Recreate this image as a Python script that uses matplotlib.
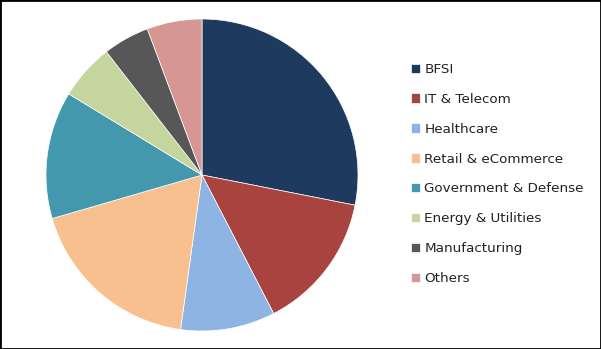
import matplotlib.pyplot as plt
from matplotlib.patches import Rectangle

# Market share by end use
labels = ['BFSI', 'IT & Telecom', 'Healthcare', 'Retail & eCommerce',
          'Government & Defense', 'Energy & Utilities', 'Manufacturing', 'Others']
shares = [28.1, 14.3, 9.8, 18.3, 13.2, 5.8, 4.8, 5.7]
colors = ['#1F3A5F', '#A9433F', '#8EB4E3', '#F9C08F',
          '#4398AE', '#C4D69E', '#575757', '#D69694']

W, H = 601, 349
fig = plt.figure(figsize=(W / 100, H / 100), dpi=100)

# Pie area (square, in pixels)
cx, cy, r = 202, 175, 156
ax = fig.add_axes([(cx - r) / W, (H - cy - r) / H, 2 * r / W, 2 * r / H])
wedges, _ = ax.pie(shares, colors=colors, startangle=90, counterclock=False,
                   radius=1, wedgeprops=dict(edgecolor='white', linewidth=0.5))
ax.set_xlim(-1, 1)
ax.set_ylim(-1, 1)
ax.set_aspect('equal')
ax.axis('off')

# Legend
fig.legend(wedges, labels, loc='center left',
           bbox_to_anchor=(411 / W, 1 - 174 / H), frameon=False,
           fontsize=9.7, handlelength=0.7, handleheight=0.7,
           handletextpad=0.3, labelspacing=1.25, borderpad=0,
           borderaxespad=0, labelcolor='#222222')

# Outer frame
fig.patches.append(Rectangle((0, 0), 1, 1, transform=fig.transFigure,
                             fill=False, edgecolor='black', linewidth=2))

fig.savefig('out.png', dpi=100)
